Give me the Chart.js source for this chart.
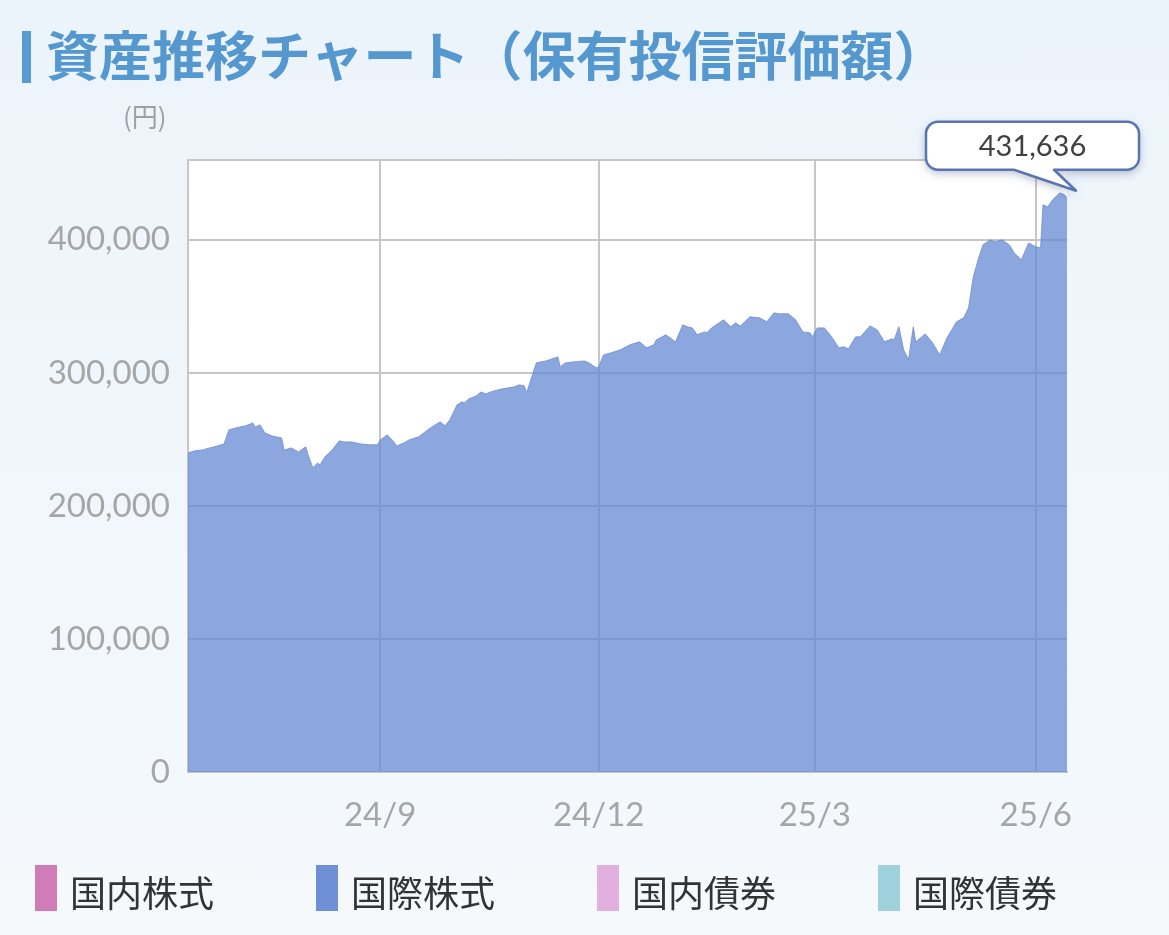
<!DOCTYPE html>
<html lang="ja">
<head>
<meta charset="utf-8">
<script src="https://cdn.jsdelivr.net/npm/chart.js@4.4.1/dist/chart.umd.min.js"></script>
<style>
html,body{margin:0;padding:0;}
body{width:1169px;height:935px;overflow:hidden;position:relative;background:linear-gradient(180deg,#ecf4fb 0%,#f1f7fc 60%,#f5f9fc 100%);font-family:"Noto Sans CJK JP",sans-serif;}
#c{position:absolute;left:0;top:0;}
#titleBar{position:absolute;left:22px;top:31px;width:9px;height:52px;background:#5a9ad3;}
#title{position:absolute;left:46px;top:27px;font-size:53px;font-weight:700;color:#5598d0;line-height:1;white-space:nowrap;}
#unit{position:absolute;left:123px;top:103px;font-size:26px;color:#a0a0a0;line-height:1;white-space:nowrap;}
.leg{position:absolute;top:865px;height:46px;}
.leg .sw{position:absolute;left:0;top:0;width:22px;height:46px;}
.leg .tx{position:absolute;left:35px;top:8px;font-size:36px;color:#333;line-height:1;white-space:nowrap;}
</style>
</head>
<body>
<canvas id="c" width="1169" height="935"></canvas>
<div id="titleBar"></div>
<div id="title">資産推移チャート（保有投信評価額）</div>
<div id="unit">(円)</div>
<div id="legend"></div>
<script>
// ---- data ----
const dates = [
'2024-06-13','2024-06-16','2024-06-19','2024-06-22','2024-06-24','2024-06-28','2024-06-30',
'2024-07-03','2024-07-07','2024-07-10','2024-07-11','2024-07-13','2024-07-15','2024-07-18',
'2024-07-22','2024-07-23','2024-07-26','2024-07-29','2024-08-01','2024-08-02','2024-08-04',
'2024-08-06','2024-08-07','2024-08-09','2024-08-12','2024-08-15','2024-08-17','2024-08-20',
'2024-08-24','2024-08-28','2024-08-31','2024-09-01','2024-09-04','2024-09-06','2024-09-08',
'2024-09-11','2024-09-13','2024-09-17','2024-09-22','2024-09-26','2024-09-28','2024-09-30',
'2024-10-03','2024-10-05','2024-10-06','2024-10-08','2024-10-11','2024-10-13','2024-10-15',
'2024-10-17','2024-10-20','2024-10-22','2024-10-27','2024-10-29','2024-10-31','2024-11-01',
'2024-11-03','2024-11-05','2024-11-09','2024-11-14','2024-11-15','2024-11-17','2024-11-21',
'2024-11-25','2024-11-27','2024-11-30','2024-12-01','2024-12-03','2024-12-06','2024-12-10',
'2024-12-14','2024-12-18','2024-12-21','2024-12-24','2024-12-25','2024-12-29','2025-01-02',
'2025-01-05','2025-01-07','2025-01-09','2025-01-11','2025-01-14','2025-01-15','2025-01-17',
'2025-01-22','2025-01-25','2025-01-27','2025-01-29','2025-02-02','2025-02-06','2025-02-09',
'2025-02-12','2025-02-14','2025-02-18','2025-02-21','2025-02-24','2025-02-27','2025-02-28',
'2025-03-02','2025-03-05','2025-03-08','2025-03-11','2025-03-13','2025-03-15','2025-03-18',
'2025-03-20','2025-03-24','2025-03-27','2025-03-30','2025-04-02','2025-04-03','2025-04-05',
'2025-04-07','2025-04-09','2025-04-11','2025-04-12','2025-04-16','2025-04-19','2025-04-22',
'2025-04-25','2025-04-29','2025-05-02','2025-05-04','2025-05-06','2025-05-08','2025-05-10',
'2025-05-13','2025-05-15','2025-05-18','2025-05-21','2025-05-23','2025-05-26','2025-05-29',
'2025-06-01','2025-06-03','2025-06-04','2025-06-06','2025-06-08','2025-06-11','2025-06-13',
'2025-06-14'
];
const intlEquity = [
240000,241400,242100,243600,244400,246600,257100,
258700,260200,262400,259400,260900,254900,252600,
251100,242100,243600,240600,244400,238400,228600,
232300,230800,236900,242100,248900,248100,248100,
246600,245900,245900,249600,253400,249600,245100,
247400,249600,251900,258700,263200,260200,264700,
275900,278200,277400,280500,282700,285700,284200,
285700,287200,288000,289500,291000,290200,285000,
296200,307500,309000,312000,304500,307500,308300,
309000,307500,303800,304500,313500,315000,317300,
321100,323300,318800,321100,324800,328600,323300,
336100,334600,333800,328600,330800,330100,333800,
339900,334600,337600,335300,342100,341400,338400,
345100,344400,344400,339900,330800,330100,327100,
333800,333800,327100,318800,319600,318100,327100,
327100,335300,332300,323300,325600,324800,334600,
317300,309800,334600,323300,329300,322600,313500,
326300,338400,341400,348900,372200,385000,396200,
400000,398500,400000,396200,390200,385000,397700,
394700,394000,426300,424800,430100,435300,433800,
431636
];
const xTickDates  = ['2024-09-01','2024-12-01','2025-03-01','2025-06-01'];
const xTickLabels = ['24/9','24/12','25/3','25/6'];
const yTickValues = [0,100000,200000,300000,400000,460000];
const yTickLabels = ['0','100,000','200,000','300,000','400,000',''];
const yMax = 460000;
const legendLabels = ['国内株式','国際株式','国内債券','国際債券'];
const legendColors = ['#d07cb9','#6f8fd6','#e2b0e0','#a0d2dd'];

// ---- helpers ----
function toUTC(s){const p=s.split('-').map(Number);return Date.UTC(p[0],p[1]-1,p[2]);}
const origin = toUTC(dates[0]);
function dayIndex(s){return Math.round((toUTC(s)-origin)/86400000);}
const points = dates.map((d,i)=>({x:dayIndex(d),y:intlEquity[i]}));
const lastDay = dayIndex(dates[dates.length-1]);

// legend (HTML)
const legLefts=[35,316,597,878];
const legEl=document.getElementById('legend');
legendLabels.forEach((t,i)=>{
  const d=document.createElement('div');d.className='leg';d.style.left=legLefts[i]+'px';
  d.innerHTML='<div class="sw" style="background:'+legendColors[i]+'"></div><div class="tx">'+t+'</div>';
  legEl.appendChild(d);
});

const plotBg={id:'plotBg',beforeDraw(chart){const a=chart.chartArea,ctx=chart.ctx;ctx.save();ctx.fillStyle='#ffffff';ctx.fillRect(a.left,a.top,a.right-a.left,a.bottom-a.top);ctx.restore();}};

const callout={id:'callout',afterDatasetsDraw(chart){
  const meta=chart.getDatasetMeta(0);const pt=meta.data[meta.data.length-1];
  const px=pt.x,py=pt.y,ctx=chart.ctx;
  const L=px-141,R=px+72,T=py-76,B=py-28,r=12,b1=px-53,b2=px-13,tx=px+9,ty=py-7;
  ctx.save();
  ctx.beginPath();
  ctx.moveTo(L+r,T);ctx.lineTo(R-r,T);ctx.arcTo(R,T,R,T+r,r);ctx.lineTo(R,B-r);ctx.arcTo(R,B,R-r,B,r);
  ctx.lineTo(b2,B);ctx.lineTo(tx,ty);ctx.lineTo(b1,B);ctx.lineTo(L+r,B);ctx.arcTo(L,B,L,B-r,r);
  ctx.lineTo(L,T+r);ctx.arcTo(L,T,L+r,T,r);ctx.closePath();
  ctx.shadowColor='rgba(40,60,100,0.35)';ctx.shadowBlur=10;ctx.shadowOffsetY=3;
  ctx.fillStyle='#ffffff';ctx.fill();
  ctx.shadowColor='rgba(0,0,0,0)';ctx.shadowBlur=0;ctx.shadowOffsetY=0;
  ctx.lineWidth=2.5;ctx.strokeStyle='#5a74b2';ctx.lineJoin='round';ctx.stroke();
  ctx.fillStyle='#404040';ctx.font='29px Lato';ctx.textAlign='center';ctx.textBaseline='middle';
  ctx.fillText(intlEquity[intlEquity.length-1].toLocaleString('en-US'),(L+R)/2,(T+B)/2+1);
  ctx.restore();
}};

const gridCol='#c6c6c6';
new Chart(document.getElementById('c'),{
  type:'line',
  data:{datasets:[{label:legendLabels[1],data:points,fill:'origin',
    backgroundColor:'rgba(102,136,211,0.75)',borderColor:'rgba(102,136,211,0.75)',
    borderWidth:1,pointRadius:0,tension:0}]},
  options:{
    responsive:false,animation:false,
    layout:{padding:{top:160,right:102,bottom:95,left:0}},
    plugins:{legend:{display:false},tooltip:{enabled:false}},
    scales:{
      x:{type:'linear',min:0,max:lastDay,
        afterBuildTicks:s=>{s.ticks=xTickDates.map(d=>({value:dayIndex(d)}));},
        afterFit:s=>{s.height=68;},
        grid:{color:gridCol,lineWidth:2,drawTicks:false},
        border:{display:true,color:gridCol,width:2},
        ticks:{callback:(v,i)=>xTickLabels[i],padding:24,color:'#a6a6a6',font:{family:'Lato',size:33},maxRotation:0,autoSkip:false}
      },
      y:{min:0,max:yMax,
        afterBuildTicks:s=>{s.ticks=yTickValues.map(v=>({value:v}));},
        afterFit:s=>{s.width=188;},
        grid:{color:gridCol,lineWidth:2,drawTicks:false},
        border:{display:true,color:gridCol,width:2},
        ticks:{callback:(v,i)=>yTickLabels[i],padding:18,color:'#a6a6a6',font:{family:'Lato',size:33},autoSkip:false}
      }
    }
  },
  plugins:[plotBg,callout]
});
</script>
</body>
</html>
